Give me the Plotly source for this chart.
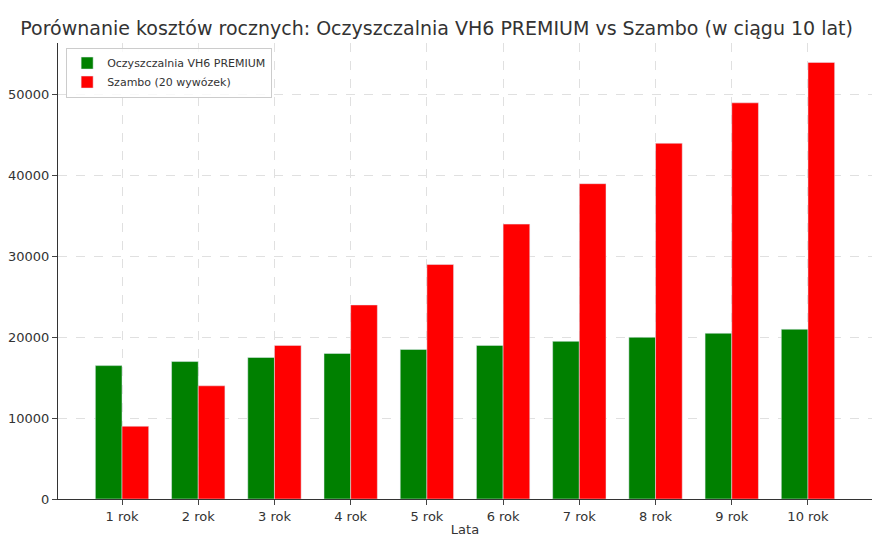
import plotly.graph_objects as go

lata = ["1 rok", "2 rok", "3 rok", "4 rok", "5 rok", "6 rok", "7 rok", "8 rok", "9 rok", "10 rok"]
oczyszczalnia = [16500, 17000, 17500, 18000, 18500, 19000, 19500, 20000, 20500, 21000]
szambo = [9000, 14000, 19000, 24000, 29000, 34000, 39000, 44000, 49000, 54000]

fig = go.Figure()
fig.add_trace(go.Bar(x=lata, y=oczyszczalnia, name="Oczyszczalnia VH6 PREMIUM", marker_color="green"))
fig.add_trace(go.Bar(x=lata, y=szambo, name="Szambo (20 wywózek)", marker_color="red"))

fig.update_layout(
    width=880, height=540,
    barmode="group", bargap=0.3, bargroupgap=0,
    paper_bgcolor="white", plot_bgcolor="white",
    font=dict(family="DejaVu Sans", size=13, color="#333"),
    title=dict(text="Porównanie kosztów rocznych: Oczyszczalnia VH6 PREMIUM vs Szambo (w ciągu 10 lat)",
               x=0.014, xanchor="left", y=0.975, font=dict(size=19, color="#333")),
    margin=dict(l=50, r=16, t=35, b=49, autoexpand=False),
    legend=dict(x=0.01, y=0.99, xanchor="left", yanchor="top", bgcolor="rgba(255,255,255,0.8)",
                bordercolor="#ccc", borderwidth=1, font=dict(size=11)),
    xaxis=dict(title=dict(text="Lata", standoff=2, font=dict(size=13)), range=[-0.84, 9.84], showline=True,
               linecolor="#333", ticks="outside", showgrid=True, gridcolor="#e0e0e0", griddash="dash",
               automargin=False),
    yaxis=dict(range=[0, 56400], dtick=10000, tickformat="d", showline=True, linecolor="#333", ticks="outside",
               showgrid=True, gridcolor="#e0e0e0", griddash="dash", zeroline=False, automargin=False),
)
fig.write_html("out.html")
